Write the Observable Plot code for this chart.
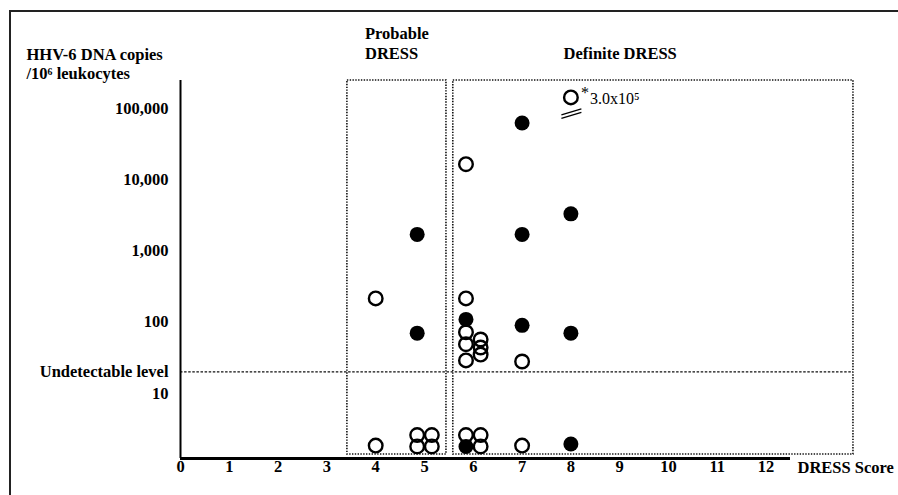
<!DOCTYPE html>
<html><head><meta charset="utf-8">
<script src="https://cdn.jsdelivr.net/npm/d3@7"></script>
<script src="https://cdn.jsdelivr.net/npm/@observablehq/plot@0.6"></script>
<style>
body{margin:0;background:#fff;}
#wrap{position:relative;width:898px;height:495px;overflow:hidden;background:#fff;}
#frame{position:absolute;left:9px;top:10px;width:920px;height:520px;border-top:2px solid #222;border-left:2px solid #222;}
#chart{position:absolute;left:0;top:0;}
</style></head><body>
<div id="wrap"><div id="frame"></div><div id="chart"></div></div>
<script>
// DRESS score (with small horizontal offsets used in the figure to separate overlapping patients)
const scores = [4, 4, 4.85, 4.85, 4.85, 5.15, 4.85, 5.15,
  5.85, 7, 7, 8, 5.85, 5.85, 5.85, 6.15, 5.85, 6.15, 6.15, 5.85, 7, 7, 8,
  5.85, 6.15, 5.85, 6.15, 7, 8];
// HHV-6 DNA copies / 10^6 leukocytes (values below the detection limit are placed near the bottom)
const copies = [215, 1.85, 1700, 70, 2.6, 2.6, 1.8, 1.8,
  16400, 62000, 1700, 3300, 215, 109, 72, 57, 49, 44, 35, 29, 90, 28, 70,
  2.6, 2.6, 1.8, 1.8, 1.85, 1.95];
// filled circle = 1, open circle = 0
const filledFlag = [0, 0, 1, 1, 0, 0, 0, 0,
  0, 1, 1, 1, 0, 1, 0, 0, 0, 0, 0, 0, 1, 0, 1,
  0, 0, 1, 0, 0, 1];
// off-scale patient
const offScore = [8];
const offValue = [300000];
const offPlotted = [142000];
const offLabel = ["3.0x10\u2075"];
// groups (dotted boxes)
const groupNames = ["Probable", "Definite"];
const groupX1 = [3.42, 5.59];
const groupX2 = [5.45, 13.79];
const groupLabel1 = ["Probable", ""];
const groupLabel2 = ["DRESS", "Definite DRESS"];
const groupLabelX = [3.78, 7.85];
// axes
const xTicks = [0,1,2,3,4,5,6,7,8,9,10,11,12];
const yTicks = [10, 100, 1000, 10000, 100000];
const yDomain = [1.22, 245000];
const xDomain = [0, 12.5];
const undetectable = [20];
const boxBottom = 1.39;

const pts = scores.map((s, i) => ({score: s, copies: copies[i], filled: filledFlag[i] === 1}));
const regions = groupNames.map((g, i) => ({name: g, x1: groupX1[i], x2: groupX2[i]}));
const off = offScore.map((s, i) => ({score: s, value: offValue[i], plotted: offPlotted[i], label: offLabel[i]}));

const FS = 16.5;
const chart = Plot.plot({
  width: 898, height: 495,
  marginLeft: 180, marginRight: 108, marginTop: 80, marginBottom: 37,
  style: {fontFamily: "'Liberation Serif', 'Times New Roman', serif", fontSize: FS + "px", fontWeight: "bold", background: "transparent", color: "#000", overflow: "visible"},
  x: {domain: xDomain, ticks: xTicks, tickSize: 0, tickPadding: 2, label: null, tickFormat: d => String(d)},
  y: {type: "log", domain: yDomain, ticks: yTicks, tickFormat: d3.format(","), tickSize: 0, tickPadding: 12, label: null},
  marks: [
    Plot.rect(regions, {x1: "x1", x2: "x2", y1: boxBottom, y2: yDomain[1], fill: "none", stroke: "#111", strokeWidth: 1.6, strokeDasharray: "1.4 1.4"}),
    Plot.ruleY(undetectable, {x1: 0, x2: groupX2[1], stroke: "#111", strokeWidth: 1.4, strokeDasharray: "2.5 1.6"}),
    Plot.ruleX([0], {stroke: "#000", strokeWidth: 2}),
    Plot.ruleY([yDomain[0]], {x1: 0, x2: xDomain[1], stroke: "#000", strokeWidth: 3}),
    Plot.dot(pts.filter(d => d.filled), {x: "score", y: "copies", r: 7.5, fill: "#000", stroke: "none"}),
    Plot.dot(pts.filter(d => !d.filled), {x: "score", y: "copies", r: 6.8, fill: "none", stroke: "#000", strokeWidth: 2.4}),
    Plot.dot(off, {x: "score", y: "plotted", r: 6.8, fill: "none", stroke: "#000", strokeWidth: 2.4}),
    Plot.text(off, {x: "score", y: "plotted", text: () => "*", dx: 14, dy: -5, fontWeight: "normal", fontSize: 16, fill: "#000"}),
    Plot.text(off, {x: "score", y: "plotted", text: "label", dx: 19, dy: 1, textAnchor: "start", fontWeight: "normal", fontSize: 16, fill: "#000"}),
    Plot.text(regions, {x: (d, i) => groupLabelX[i], text: (d, i) => groupLabel1[i], frameAnchor: "top", lineAnchor: "middle", dy: -47, textAnchor: "start", fill: "#000"}),
    Plot.text(regions, {x: (d, i) => groupLabelX[i], text: (d, i) => groupLabel2[i], frameAnchor: "top", lineAnchor: "middle", dy: -27, textAnchor: "start", fill: "#000"}),
    Plot.text(undetectable, {y: d => d, text: () => "Undetectable level", frameAnchor: "left", lineAnchor: "middle", dx: -12, textAnchor: "end", fill: "#000"}),
    Plot.text(["HHV-6 DNA copies"], {frameAnchor: "top-left", lineAnchor: "middle", dx: -154, dy: -26, textAnchor: "start", fill: "#000"}),
    Plot.text(["/10\u2076 leukocytes"], {frameAnchor: "top-left", lineAnchor: "middle", dx: -154, dy: -7, textAnchor: "start", fill: "#000"}),
    Plot.text(["DRESS Score"], {frameAnchor: "bottom-right", lineAnchor: "middle", dx: 7, dy: 9, textAnchor: "start", fill: "#000"})
  ]
});
document.getElementById("chart").appendChild(chart);

// break marks under the off-scale point, positioned through the plot's scales
const sx = chart.scale("x"), sy = chart.scale("y");
off.forEach(d => {
  const cx = sx.apply(d.score), cy = sy.apply(d.plotted);
  d3.select(chart).append("g").attr("stroke", "#000").attr("stroke-width", 1.3)
    .selectAll("line").data([0, 3.5]).join("line")
    .attr("x1", cx - 9).attr("y1", o => cy + 18 + o)
    .attr("x2", cx + 11).attr("y2", o => cy + 12 + o);
});
</script>
</body></html>
